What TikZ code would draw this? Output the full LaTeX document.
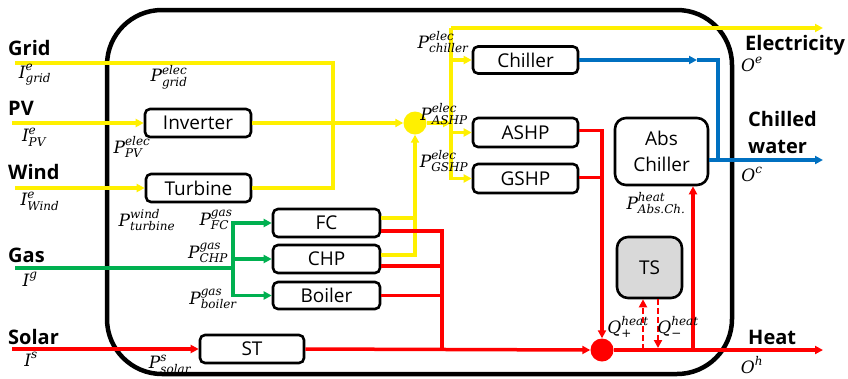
\documentclass[tikz,border=0pt]{standalone}
\usepackage{fontspec}
\setmainfont{Open Sans}
\newfontfamily\mfont{DejaVu Serif}
\usetikzlibrary{arrows.meta,calc}
\definecolor{cyel}{RGB}{255,240,0}
\definecolor{cgrn}{RGB}{0,176,80}
\definecolor{cred}{RGB}{255,0,0}
\definecolor{cblu}{RGB}{0,112,192}
\definecolor{cts}{RGB}{217,217,217}
\newcommand\scr[1]{\hbox{\mfont\itshape\fontsize{12}{12}\selectfont #1}}
\newcommand\lbl[3]{$\hbox{\mfont\itshape #1}^{\scr{#2}}_{\scr{#3}}$}
\newcommand\lbs[2]{$\hbox{\mfont\itshape #1}^{\scr{#2}}$}
\begin{document}
\begin{tikzpicture}[x=1pt,y=-1pt,
  flow/.style={line width=3.5pt},
  yl/.style={flow,draw=cyel},
  gr/.style={flow,draw=cgrn},
  rd/.style={flow,draw=cred},
  bl/.style={flow,draw=cblu},
  arr/.style={-{Triangle[length=8pt,width=8pt]}},
  blk/.style={draw,line width=2.6pt,rounded corners=5pt,inner sep=0pt,fill=white,
    font=\fontsize{19}{22}\selectfont},
  lab/.style={font=\fontsize{20}{22}\selectfont\bfseries,anchor=west,inner sep=0pt},
  ml/.style={font=\mfont\fontsize{17}{19}\selectfont,inner sep=0pt}
]
\useasboundingbox (0,0) rectangle (848,378);
% outer boundary
\draw[line width=4.5pt,rounded corners=55pt] (107,10) rectangle (732,374);

% nodes
\node[blk,minimum width=106pt,minimum height=28pt] (inv) at (198,123) {Inverter};
\node[blk,minimum width=105pt,minimum height=28pt] (tur) at (198.5,188) {Turbine};
\node[blk,minimum width=107pt,minimum height=28pt] (fc) at (326.5,223) {FC};
\node[blk,minimum width=107pt,minimum height=28pt] (chp) at (326.5,259) {CHP};
\node[blk,minimum width=107pt,minimum height=27pt] (boil) at (326.5,295.5) {Boiler};
\node[blk,minimum width=104pt,minimum height=28pt] (st) at (252,349) {ST};
\node[blk,minimum width=105pt,minimum height=27pt] (chil) at (525.5,60) {Chiller};
\node[blk,minimum width=105pt,minimum height=29pt] (ashp) at (525.5,132.5) {ASHP};
\node[blk,minimum width=105pt,minimum height=29pt] (gshp) at (525.5,178.5) {GSHP};
\node[blk,rounded corners=11pt,minimum width=93pt,minimum height=67pt,align=center,
  font=\fontsize{19}{26}\selectfont] (abs) at (661.5,151.5) {Abs\\Chiller};
\node[blk,rounded corners=11pt,minimum width=65pt,minimum height=61pt,fill=cts] (ts) at (649.5,267.5) {TS};
\node[circle,fill=cyel,minimum size=23pt,inner sep=0pt] (yj) at (415,123) {};
\node[circle,fill=cred,minimum size=23pt,inner sep=0pt] (rj) at (602,350) {};

% free-end coordinates
\coordinate (gridin) at (15,63);
\coordinate (pvin) at (12,123);
\coordinate (windin) at (15,188);
\coordinate (gasin) at (15,268);
\coordinate (solin) at (12,349);
\coordinate (ycol) at (333,188);
\coordinate (btop) at (451,28);
\coordinate (eout) at (823,28);
\coordinate (gx) at (233,268);
\coordinate (rx) at (442,349);
\coordinate (heatout) at (823,350);
\coordinate (absin) at (693,350);
\coordinate (qp) at (643,350);
\coordinate (qm) at (658,348);
\coordinate (bm) at (697,60);
\coordinate (bcol) at (718,160);
\coordinate (cwout) at (823,160);

% yellow (electricity)
\draw[yl] (gridin) -| (ycol) -- (tur.east);
\draw[yl,arr] (pvin) -- (inv.west);
\draw[yl,arr] (windin) -- (tur.west);
\draw[yl,arr] (inv.east) -- (yj.west);
\draw[yl] ([yshift=5pt]fc.east) -- ([yshift=5pt]fc.east -| yj);
\draw[yl,arr] ([yshift=4pt]chp.east) -| (yj.south);
\draw[yl,arr] (yj.east) -- (yj.east -| btop);
\draw[yl,arr] (btop) -- (eout);
\draw[yl,arr] (btop) |- (gshp.west);
\draw[yl,arr] (btop |- chil.west) -- (chil.west);
\draw[yl,arr] (btop |- ashp.west) -- (ashp.west);

% green (gas)
\draw[gr] (gasin) -- (gx);
\draw[gr,arr] (gx) |- (fc.west);
\draw[gr,arr] (gx) |- (chp.west);
\draw[gr,arr] (gx) |- (boil.west);

% red (heat)
\draw[rd,arr] (solin) -- (st.west);
\draw[rd,arr] (st.east) -- (rj.west);
\draw[rd] ([yshift=-8pt]fc.east) -| (rx);
\draw[rd] ([yshift=-7pt]chp.east) -- ([yshift=-7pt]chp.east -| rx);
\draw[rd] (boil.east) -- (boil.east -| rx);
\draw[rd,arr] ([yshift=2pt]ashp.east) -| (rj.north);
\draw[rd] ([yshift=1pt]gshp.east) -- ([yshift=1pt]gshp.east -| rj);
\draw[rd,arr] (rj.east) -- (heatout);
\draw[rd,arr] (absin) -- (absin |- abs.south);
\draw[rd,arr,line width=2.6pt,dash pattern=on 6pt off 3pt] (qp) -- (qp |- ts.south);
\draw[rd,arr,line width=2.6pt,dash pattern=on 6pt off 3pt] (qm |- ts.south) -- (qm);

% blue (chilled water)
\draw[bl,arr] (chil.east) -- (bm);
\draw[bl] (bm) -| (bcol);
\draw[bl,arr] ([yshift=-8.5pt]abs.east) -- (cwout);

% side labels
\node[lab] (lgrid) at (8,48) {Grid};
\node[lab] (lpv) at (8,108) {PV};
\node[lab] (lwind) at (8,172) {Wind};
\node[lab] (lgas) at (8,255) {Gas};
\node[lab] (lsol) at (8,337) {Solar};
\node[lab] (lel) at (745,45) {Electricity};
\node[lab,align=left,font=\fontsize{20}{27}\selectfont\bfseries] (lcw) at (748,132) {Chilled\\water};
\node[lab] (lheat) at (748,337) {Heat};

% math labels
\node[ml] (igrid) at (35,75) {\lbl{I}{e}{grid}};
\node[ml] (ipv) at (34,137) {\lbl{I}{e}{PV}};
\node[ml] (iwind) at (40,201) {\lbl{I}{e}{Wind}};
\node[ml] (ig) at (30,279) {\lbs{I}{g}};
\node[ml] (is) at (31,359) {\lbs{I}{s}};
\node[ml] (pgrid) at (169,77) {\lbl{P}{elec}{grid}};
\node[ml] (ppv) at (132,147) {\lbl{P}{elec}{PV}};
\node[ml] (ptur) at (147,220) {\lbl{P}{wind}{turbine}};
\node[ml] (pfc) at (216,220) {\lbl{P}{gas}{FC}};
\node[ml] (pchp) at (208,253) {\lbl{P}{gas}{CHP}};
\node[ml] (pboil) at (213,299) {\lbl{P}{gas}{boiler}};
\node[ml] (psol) at (170,364) {\lbl{P}{s}{solar}};
\node[ml] (pchil) at (443,42) {\lbl{P}{elec}{chiller}};
\node[ml] (pashp) at (444,114) {\lbl{P}{elec}{ASHP}};
\node[ml] (pgshp) at (444,161) {\lbl{P}{elec}{GSHP}};
\node[ml] (pabs) at (656,203) {\lbl{P}{heat}{Abs.Ch.}};
\node[ml] (qplus) at (628,327) {\lbl{Q}{heat}{+}};
\node[ml] (qminus) at (678,327) {\lbl{Q}{heat}{−}};
\node[ml] (oe) at (752,64) {\lbs{O}{e}};
\node[ml] (oc) at (752,174) {\lbs{O}{c}};
\node[ml] (oh) at (752,365) {\lbs{O}{h}};
\end{tikzpicture}
\end{document}
